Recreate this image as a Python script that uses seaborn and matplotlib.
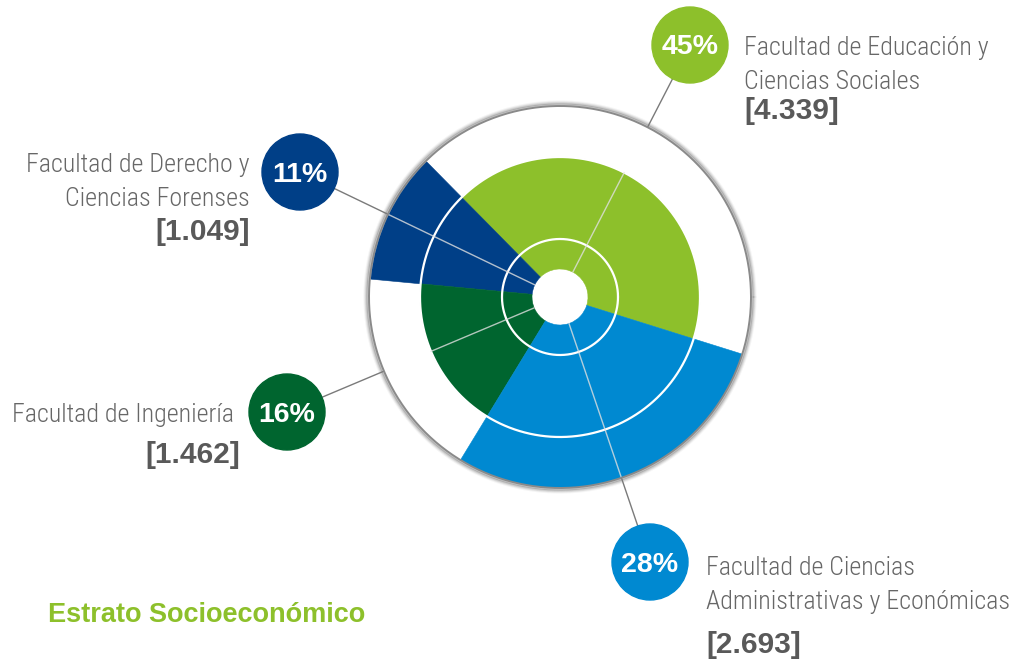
import numpy as np
import matplotlib
matplotlib.use('Agg')
import matplotlib.pyplot as plt
from matplotlib.patches import Circle
import seaborn as sns

# Datos
facultades = ['Facultad de Educación y\nCiencias Sociales',
              'Facultad de Derecho y\nCiencias Forenses',
              'Facultad de Ingeniería',
              'Facultad de Ciencias\nAdministrativas y Económicas']
porcentajes = [45, 11, 16, 28]
estudiantes = [4339, 1049, 1462, 2693]
angulos = [152, 40, 64, 104]      # apertura de cada sector (grados)
radios = [140, 190, 140, 191]     # alcance de cada sector
inicio = -17.4                    # angulo donde empieza el primer sector
titulo = 'Estrato Socioeconómico'

colores = sns.color_palette(['#8dc02b', '#003f87', '#00652f', '#0089d1'])

sns.set_theme(style='white')
plt.rcParams['font.family'] = ['Liberation Sans', 'DejaVu Sans']
NARROW = ['Roboto Condensed', 'Barlow Semi Condensed', 'Archivo Narrow', 'DejaVu Sans']

W, H = 1016, 660
cx, cy = 560, 297      # centro del grafico (pixeles, desde arriba)
R = 191                # radio del circulo exterior
hueco = 28
anillos = [58, 140]

# posicion de las burbujas y de los textos (pixeles)
burbujas = [(690, 45), (300, 172), (287, 412), (650, 562)]
etiquetas = [(744, 'left', [55, 89], 119),
             (250, 'right', [172, 206], 240),
             (234, 'right', [422], 463),
             (706, 'left', [575, 609], 653)]

fig = plt.figure(figsize=(W / 100, H / 100), dpi=100)
fig.patch.set_facecolor('white')

# ---- sectores en ejes polares
axp = fig.add_axes([(cx - R) / W, (H - cy - R) / H, 2 * R / W, 2 * R / H],
                   projection='polar')
axp.set_ylim(0, R)
axp.set_facecolor('white')
axp.grid(False)
axp.set_xticks([])
axp.set_yticks([])
axp.spines['polar'].set_visible(False)

bordes = inicio + np.concatenate([[0], np.cumsum(angulos)])
centros = np.deg2rad(bordes[:-1] + np.array(angulos) / 2)
axp.bar(centros, np.array(radios) - hueco, width=np.deg2rad(angulos), bottom=hueco,
        color=colores, edgecolor=colores, linewidth=0.4, align='center', zorder=2)

t = np.linspace(0, 2 * np.pi, 500)
for r in anillos:
    axp.plot(t, np.full_like(t, r), color='white', lw=1.6, zorder=3)

# sombra y borde exterior
for dr, a in [(4.5, 0.04), (3.5, 0.07), (2.5, 0.12), (1.5, 0.2)]:
    axp.plot(t, np.full_like(t, R + dr), color='black', alpha=a, lw=1.6,
             clip_on=False, zorder=1)
axp.plot(t, np.full_like(t, R), color='#8a8a8a', lw=1.4, clip_on=False, zorder=4)

# ---- capa de textos y burbujas
axo = fig.add_axes([0, 0, 1, 1])
axo.set_xlim(0, W)
axo.set_ylim(H, 0)
axo.axis('off')
axo.patch.set_alpha(0)
axo.set_zorder(2)

for i, (bx, by) in enumerate(burbujas):
    dx, dy = bx - cx, by - cy
    d = np.hypot(dx, dy)
    th = np.arctan2(-dy, dx)
    # tramo interior de la linea guia
    axp.plot([th, th], [hueco, radios[i]], color='#e0e0e0', lw=1, alpha=0.8, zorder=3)
    # tramo exterior
    axo.plot([cx + dx / d * (R + 1), bx], [cy + dy / d * (R + 1), by],
             color='#7a7a7a', lw=1, zorder=1)
    axo.add_patch(Circle((bx, by), 38, color=colores[i], zorder=3))
    axo.text(bx, by + 9.5, f'{porcentajes[i]}%', ha='center', va='baseline',
             color='white', fontsize=20.5, fontweight='bold', zorder=4)

    x, ha, bases, base_val = etiquetas[i]
    for linea, yb in zip(facultades[i].split('\n'), bases):
        axo.text(x, yb, linea, ha=ha, va='baseline', color='#676767',
                 fontsize=18.7, fontweight='light', family=NARROW)
    xv = x + 6 if i == 2 else x
    valor = f'[{estudiantes[i]:,}]'.replace(',', '.')
    axo.text(xv, base_val, valor, ha=ha, va='baseline', color='#595959',
             fontsize=21.5, fontweight='bold')

axo.text(48, 622, titulo, ha='left', va='baseline', color='#8dc02b',
         fontsize=19.5, fontweight='bold')

fig.savefig('out.png', dpi=100)
